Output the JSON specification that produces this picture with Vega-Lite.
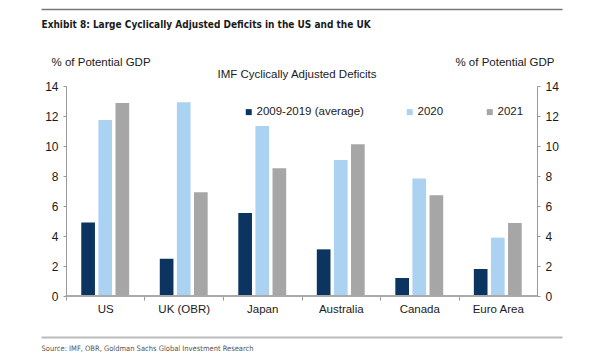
{
  "$schema": "https://vega.github.io/schema/vega-lite/v6.json",
  "width": 521,
  "height": 210,
  "autosize": {"type": "none"},
  "padding": {"left": 41, "right": 40, "top": 86, "bottom": 67},
  "background": "white",
  "config": {
    "view": {"stroke": null},
    "font": "Liberation Sans",
    "axis": {"grid": false, "labelColor": "#1a1a1a", "titleColor": "#1a1a1a", "titleFontWeight": "normal"},
    "legend": {"labelColor": "#1a1a1a"}
  },
  "data": {
    "values": [
      {"Country": "US", "Series": "2009-2019 (average)", "Value": 4.9},
      {"Country": "US", "Series": "2020", "Value": 11.73},
      {"Country": "US", "Series": "2021", "Value": 12.87},
      {"Country": "UK (OBR)", "Series": "2009-2019 (average)", "Value": 2.49},
      {"Country": "UK (OBR)", "Series": "2020", "Value": 12.91},
      {"Country": "UK (OBR)", "Series": "2021", "Value": 6.91},
      {"Country": "Japan", "Series": "2009-2019 (average)", "Value": 5.53},
      {"Country": "Japan", "Series": "2020", "Value": 11.33},
      {"Country": "Japan", "Series": "2021", "Value": 8.51},
      {"Country": "Australia", "Series": "2009-2019 (average)", "Value": 3.11},
      {"Country": "Australia", "Series": "2020", "Value": 9.07},
      {"Country": "Australia", "Series": "2021", "Value": 10.11},
      {"Country": "Canada", "Series": "2009-2019 (average)", "Value": 1.2},
      {"Country": "Canada", "Series": "2020", "Value": 7.84},
      {"Country": "Canada", "Series": "2021", "Value": 6.71},
      {"Country": "Euro Area", "Series": "2009-2019 (average)", "Value": 1.8},
      {"Country": "Euro Area", "Series": "2020", "Value": 3.89},
      {"Country": "Euro Area", "Series": "2021", "Value": 4.87}
    ]
  },
  "layer": [
    {
      "mark": {"type": "bar"},
      "encoding": {
        "x": {
          "field": "Country", "type": "nominal",
          "scale": {"domain": ["US", "UK (OBR)", "Japan", "Australia", "Canada", "Euro Area"], "paddingInner": 0.39, "paddingOuter": 0.513},
          "axis": {"orient": "bottom", "domain": false, "ticks": true, "tickSize": 4, "tickColor": "#999999", "tickOffset": -39.25, "labelOffset": 39.25, "labelPadding": 3, "labelFontSize": 11.5, "labelAngle": 0, "title": null}
        },
        "xOffset": {
          "field": "Series", "type": "nominal",
          "scale": {"domain": ["2009-2019 (average)", "2020", "2021"], "paddingInner": 0.2}
        },
        "y": {
          "field": "Value", "type": "quantitative",
          "scale": {"domain": [0, 14], "nice": false},
          "axis": {"orient": "left", "offset": -25, "values": [0, 2, 4, 6, 8, 10, 12, 14], "domainColor": "#999999", "tickColor": "#999999", "tickSize": 3, "labelPadding": 5, "labelFontSize": 12,
            "title": "% of Potential GDP", "titleAngle": 0, "titleAlign": "left", "titleBaseline": "middle", "titleX": -15, "titleY": -24, "titleFontSize": 11.5}
        },
        "color": {
          "field": "Series", "type": "nominal",
          "scale": {"domain": ["2009-2019 (average)", "2020", "2021"], "range": ["#0b3560", "#abd2f0", "#a6a6a6"]},
          "legend": {"orient": "none", "legendX": 202, "legendY": 20, "direction": "horizontal", "columns": 3, "title": null, "symbolType": "square", "symbolSize": 36, "symbolStrokeWidth": 0, "labelFontSize": 11.5, "columnPadding": 40, "labelOffset": 2, "padding": 0}
        }
      }
    },
    {
      "mark": {"type": "rule", "color": "#aaaaaa", "strokeWidth": 1.5},
      "encoding": {
        "x": {"datum": "US", "bandPosition": -0.32,
          "axis": {"orient": "top", "offset": 77, "domain": true, "domainColor": "#777777", "domainWidth": 1.5, "ticks": false, "labels": false,
            "title": "Exhibit 8: Large Cyclically Adjusted Deficits in the US and the UK", "titleX": 0, "titleY": 15, "titleAlign": "left", "titleBaseline": "middle", "titleFont": "DejaVu Sans Condensed, Liberation Sans", "titleFontWeight": "bold", "titleFontSize": 10}},
        "x2": {"datum": "Euro Area", "bandPosition": 1.32},
        "y": {"datum": 0,
          "axis": {"orient": "right", "offset": -25, "values": [0, 2, 4, 6, 8, 10, 12, 14], "domainColor": "#999999", "tickColor": "#999999", "tickSize": 3, "labelPadding": 5, "labelFontSize": 12,
            "title": "% of Potential GDP", "titleAngle": 0, "titleAlign": "right", "titleBaseline": "middle", "titleX": 17, "titleY": -24, "titleFontSize": 11.5}}
      }
    },
    {
      "mark": {"type": "text", "text": " ", "opacity": 0},
      "encoding": {
        "x": {"field": "Country", "type": "nominal",
          "axis": {"orient": "top", "offset": 0, "domain": false, "ticks": false, "labels": false,
            "title": "IMF Cyclically Adjusted Deficits", "titleX": 255.5, "titleY": -12, "titleAlign": "center", "titleBaseline": "middle", "titleFontSize": 11.5}},
        "y": {"datum": 0, "axis": null}
      }
    },
    {
      "mark": {"type": "text", "text": " ", "opacity": 0},
      "encoding": {
        "x": {"field": "Country", "type": "nominal",
          "axis": {"orient": "bottom", "offset": 41, "domain": true, "domainColor": "#bbbbbb", "domainWidth": 2, "ticks": false, "labels": false,
            "title": "Source: IMF, OBR, Goldman Sachs Global Investment Research", "titleX": 0, "titleY": 11, "titleAlign": "left", "titleBaseline": "middle", "titleFont": "DejaVu Sans Condensed, Liberation Sans", "titleFontSize": 7.5, "titleColor": "#555555"}},
        "y": {"datum": 0, "axis": null}
      }
    }
  ],
  "resolve": {"axis": {"x": "independent", "y": "independent"}}
}
